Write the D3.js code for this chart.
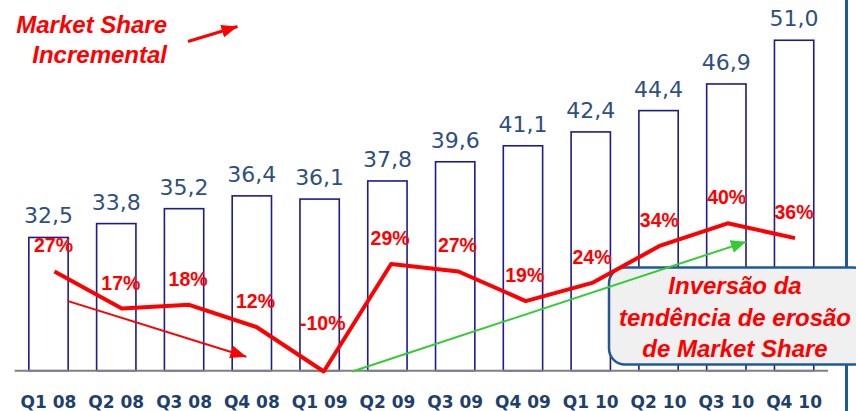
<!DOCTYPE html>
<html>
<head>
<meta charset="utf-8">
<script src="https://cdn.jsdelivr.net/npm/d3@7.9.0/dist/d3.min.js"></script>
<style>
  body { margin: 0; background: #fff; }
  svg { display: block; }
</style>
</head>
<body>
<svg id="chart" width="856" height="411"></svg>
<script>
const quarters = ['Q1 08', 'Q2 08', 'Q3 08', 'Q4 08', 'Q1 09', 'Q2 09', 'Q3 09', 'Q4 09', 'Q1 10', 'Q2 10', 'Q3 10', 'Q4 10'];
const shareValues = [32.5, 33.8, 35.2, 36.4, 36.1, 37.8, 39.6, 41.1, 42.4, 44.4, 46.9, 51.0];
const incrementalPct = [27, 17, 18, 12, -10, 29, 27, 19, 24, 34, 40, 36];
const titleLines = ['Market Share', 'Incremental'];
const boxLines = ['Inversão da', 'tendência de erosão', 'de Market Share'];

const svg = d3.select('#chart');

const x = d3.scaleBand().domain(quarters).range([14.6, 828]).paddingInner(0.42).paddingOuter(0.21);
const xLine = d3.scalePoint().domain(quarters).range([54.5, 795]);
const y = d3.scaleLinear().domain([20, 52]).range([370.7, 29.6]);
const y2 = d3.scaleLinear().domain([0, 40]).range([371.5, 223.3]).clamp(true);
const bw = x.bandwidth();

// arrow heads
const defs = svg.append('defs');
function marker(id, color, len, wid) {
  defs.append('marker')
    .attr('id', id)
    .attr('markerUnits', 'userSpaceOnUse')
    .attr('viewBox', `0 0 ${len} ${wid}`)
    .attr('refX', len).attr('refY', wid / 2)
    .attr('markerWidth', len).attr('markerHeight', wid)
    .attr('orient', 'auto')
    .append('path')
    .attr('d', `M0,0L${len},${wid / 2}L0,${wid}Z`)
    .attr('fill', color);
}
marker('head-red', '#ff0000', 16, 13);
marker('head-green', '#33cc33', 15, 13);

// bars
svg.append('g').selectAll('rect')
  .data(shareValues)
  .join('rect')
  .attr('x', (d, i) => x(quarters[i]))
  .attr('y', d => y(d))
  .attr('width', bw)
  .attr('height', d => y(20) - y(d))
  .attr('fill', '#fff')
  .attr('stroke', '#1c1c8a')
  .attr('stroke-width', 1.6);

// axis baseline
svg.append('line')
  .attr('x1', 14.6).attr('x2', 828)
  .attr('y1', y(20)).attr('y2', y(20))
  .attr('stroke', '#808080').attr('stroke-width', 2);

// bar value labels
svg.append('g').selectAll('text')
  .data(shareValues)
  .join('text')
  .attr('x', (d, i) => x(quarters[i]) + bw / 2)
  .attr('y', d => y(d) - 14)
  .attr('text-anchor', 'middle')
  .attr('font-family', 'DejaVu Sans')
  .attr('font-size', 22)
  .attr('fill', '#2f4f7e')
  .text(d => d.toFixed(1).replace('.', ','));

// category labels
svg.append('g').selectAll('text')
  .data(quarters)
  .join('text')
  .attr('x', d => x(d) + bw / 2)
  .attr('y', 408)
  .attr('text-anchor', 'middle')
  .attr('font-family', 'DejaVu Sans')
  .attr('font-weight', 'bold')
  .attr('font-size', 17)
  .attr('fill', '#1f3f6c')
  .text(d => d);

// right frame line
svg.append('line')
  .attr('x1', 846.5).attr('x2', 846.5)
  .attr('y1', 0).attr('y2', 411)
  .attr('stroke', '#1f5a98').attr('stroke-width', 3);

// annotation box
svg.append('rect')
  .attr('x', 609).attr('y', 267.5)
  .attr('width', 260).attr('height', 97)
  .attr('rx', 16)
  .attr('fill', '#f0f0f0')
  .attr('stroke', '#1f5a96')
  .attr('stroke-width', 2.5);

svg.append('g').selectAll('text')
  .data(boxLines)
  .join('text')
  .attr('x', 735)
  .attr('y', (d, i) => 294 + i * 31.5)
  .attr('text-anchor', 'middle')
  .attr('font-family', 'Liberation Sans')
  .attr('font-style', 'italic')
  .attr('font-weight', 'bold')
  .attr('font-size', 24)
  .attr('fill', '#ff0000')
  .text(d => d);

// trend arrows
svg.append('line')
  .attr('x1', x('Q1 08') + bw).attr('y1', y2(19))
  .attr('x2', x('Q4 08') + bw * 0.36).attr('y2', y2(4))
  .attr('stroke', '#ff0000').attr('stroke-width', 2)
  .attr('marker-end', 'url(#head-red)');

svg.append('line')
  .attr('x1', x('Q1 09') + bw + 13).attr('y1', y2(0))
  .attr('x2', x('Q3 10') + bw).attr('y2', y2(35))
  .attr('stroke', '#33cc33').attr('stroke-width', 2)
  .attr('marker-end', 'url(#head-green)');

// incremental line
const line = d3.line()
  .x((d, i) => xLine(quarters[i]))
  .y(d => y2(d));

svg.append('path')
  .datum(incrementalPct)
  .attr('d', line)
  .attr('fill', 'none')
  .attr('stroke', '#ff0000')
  .attr('stroke-width', 4)
  .attr('stroke-linejoin', 'round');

svg.append('g').selectAll('text')
  .data(incrementalPct)
  .join('text')
  .attr('x', (d, i) => xLine(quarters[i]) - 1)
  .attr('y', d => y2(d) - (d < 0 ? 42 : 19))
  .attr('text-anchor', 'middle')
  .attr('font-family', 'Liberation Sans')
  .attr('font-weight', 'bold')
  .attr('font-size', 19.5)
  .attr('fill', '#ff0000')
  .text(d => d + '%');

// title
svg.append('g').selectAll('text')
  .data(titleLines)
  .join('text')
  .attr('x', 167)
  .attr('y', (d, i) => 33 + i * 30)
  .attr('text-anchor', 'end')
  .attr('font-family', 'Liberation Sans')
  .attr('font-style', 'italic')
  .attr('font-weight', 'bold')
  .attr('font-size', 24)
  .attr('fill', '#ff0000')
  .text(d => d);

svg.append('line')
  .attr('x1', 188).attr('y1', 41.5)
  .attr('x2', 237.5).attr('y2', 26.5)
  .attr('stroke', '#ff0000').attr('stroke-width', 3)
  .attr('marker-end', 'url(#head-red)');
</script>
</body>
</html>
